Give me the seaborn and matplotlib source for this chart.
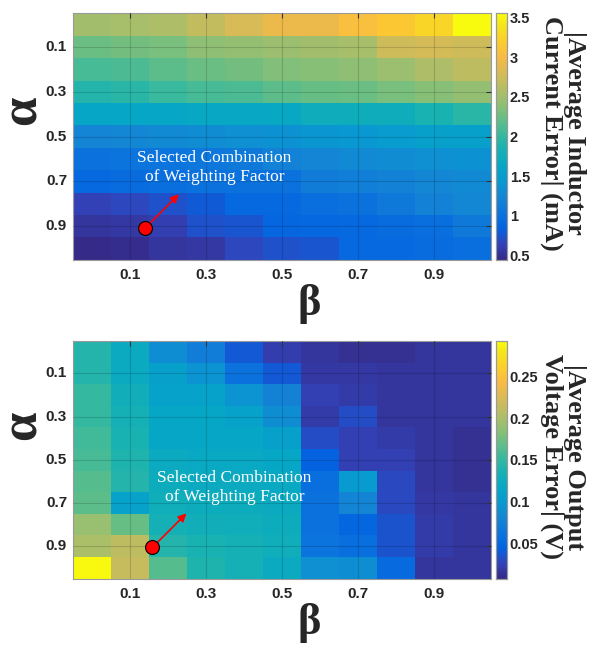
import matplotlib
matplotlib.use("Agg")
import matplotlib.pyplot as plt
import matplotlib.transforms as mtransforms
from matplotlib.colors import LinearSegmentedColormap
import pandas as pd
import seaborn as sns


# --- Data --------------------------------------------------------------------
# Weighting factor sweep: alpha (rows) x beta (columns)
alpha_values = [0.0, 0.1, 0.2, 0.3, 0.4, 0.5, 0.6, 0.7, 0.8, 0.9, 1.0]
beta_values = [0.0, 0.1, 0.2, 0.3, 0.4, 0.5, 0.6, 0.7, 0.8, 0.9, 1.0]
tick_values = [0.1, 0.3, 0.5, 0.7, 0.9]

# |Average inductor current error| (mA)
current_error = [
    [2.50, 2.53, 2.56, 2.68, 2.81, 2.93, 2.93, 3.05, 3.15, 3.27, 3.55],
    [2.25, 2.28, 2.31, 2.40, 2.43, 2.47, 2.50, 2.53, 2.74, 2.78, 2.74],
    [2.09, 2.12, 2.19, 2.25, 2.28, 2.34, 2.37, 2.40, 2.47, 2.56, 2.65],
    [1.91, 1.94, 2.03, 2.09, 2.12, 2.19, 2.22, 2.25, 2.31, 2.37, 2.43],
    [1.63, 1.63, 1.63, 1.66, 1.66, 1.66, 1.75, 1.75, 1.75, 1.85, 1.94],
    [1.23, 1.26, 1.29, 1.32, 1.35, 1.38, 1.41, 1.44, 1.50, 1.54, 1.54],
    [1.01, 1.04, 1.04, 1.07, 1.10, 1.19, 1.23, 1.29, 1.32, 1.35, 1.38],
    [0.92, 0.95, 0.98, 1.01, 1.01, 1.01, 1.13, 1.16, 1.19, 1.26, 1.29],
    [0.64, 0.67, 0.73, 0.79, 0.92, 0.92, 0.98, 1.01, 1.10, 1.19, 1.26],
    [0.54, 0.57, 0.61, 0.73, 0.76, 0.88, 0.90, 0.92, 0.95, 0.98, 1.10],
    [0.45, 0.48, 0.54, 0.57, 0.67, 0.73, 0.76, 0.92, 0.92, 0.95, 0.98],
]

# |Average output voltage error| (V)
voltage_error = [
    [0.142, 0.122, 0.088, 0.072, 0.038, 0.022, 0.016, 0.013, 0.013, 0.016, 0.016],
    [0.142, 0.122, 0.108, 0.094, 0.060, 0.038, 0.018, 0.018, 0.016, 0.016, 0.016],
    [0.150, 0.130, 0.111, 0.111, 0.094, 0.077, 0.024, 0.021, 0.016, 0.016, 0.016],
    [0.150, 0.133, 0.116, 0.116, 0.111, 0.088, 0.021, 0.032, 0.016, 0.016, 0.016],
    [0.156, 0.136, 0.116, 0.116, 0.116, 0.108, 0.032, 0.024, 0.021, 0.016, 0.013],
    [0.158, 0.139, 0.122, 0.119, 0.119, 0.116, 0.044, 0.024, 0.024, 0.016, 0.013],
    [0.164, 0.142, 0.125, 0.122, 0.122, 0.119, 0.055, 0.102, 0.030, 0.016, 0.013],
    [0.167, 0.111, 0.128, 0.125, 0.125, 0.122, 0.060, 0.080, 0.030, 0.018, 0.016],
    [0.192, 0.170, 0.133, 0.130, 0.128, 0.125, 0.060, 0.049, 0.035, 0.021, 0.016],
    [0.200, 0.209, 0.142, 0.136, 0.133, 0.128, 0.062, 0.055, 0.035, 0.021, 0.016],
    [0.290, 0.214, 0.164, 0.139, 0.133, 0.122, 0.091, 0.088, 0.052, 0.016, 0.016],
]

current_ticks = [0.5, 1, 1.5, 2, 2.5, 3, 3.5]
voltage_ticks = [0.05, 0.1, 0.15, 0.2, 0.25]

# Selected weighting factor combination (beta, alpha) marked on each map
selected_beta = [0.14, 0.16]
selected_alpha = [0.91, 0.905]

panel_labels = [
    "|Average Inductor\nCurrent Error| (mA)",
    "|Average Output\nVoltage Error| (V)",
]
note_text = "Selected Combination\nof Weighting Factor"


# --- Colormap (MATLAB parula approximation) ----------------------------------
parula_anchors = [
    (0.2081, 0.1663, 0.5292), (0.1959, 0.2645, 0.7279),
    (0.0117, 0.3875, 0.8820), (0.0498, 0.4586, 0.8641),
    (0.0793, 0.5200, 0.8312), (0.0343, 0.5966, 0.8199),
    (0.0228, 0.6535, 0.7768), (0.0843, 0.6928, 0.7062),
    (0.2178, 0.7250, 0.6193), (0.3953, 0.7459, 0.5244),
    (0.5709, 0.7485, 0.4494), (0.7184, 0.7411, 0.3905),
    (0.8507, 0.7299, 0.3360), (0.9739, 0.7314, 0.2666),
    (0.9880, 0.8066, 0.1794), (0.9589, 0.8949, 0.1132),
    (0.9763, 0.9831, 0.0538),
]
positions = [min(4 * i, 63) / 63 for i in range(len(parula_anchors))]
parula = LinearSegmentedColormap.from_list("parula", list(zip(positions, parula_anchors)))


# --- Figure ------------------------------------------------------------------
sns.set_style("white")
tick_font = ["Liberation Sans Narrow", "Liberation Sans", "DejaVu Sans"]
serif_font = ["Liberation Serif", "DejaVu Serif"]

fig = plt.figure(figsize=(6, 6.6), dpi=100)

panels = [
    dict(data=current_error, vmin=0.45, vmax=3.55, ticks=current_ticks,
         ax=[0.121, 0.6065, 0.697, 0.3733], cax=[0.8267, 0.6065, 0.0183, 0.3733],
         note=(50, 44), alpha_y=0.833),
    dict(data=voltage_error, vmin=0.008, vmax=0.292, ticks=voltage_ticks,
         ax=[0.121, 0.1232, 0.697, 0.360], cax=[0.8267, 0.1232, 0.0183, 0.360],
         note=(59, 43), alpha_y=0.356),
]

grey_text = "#262626"
for i, p in enumerate(panels):
    ax = fig.add_axes(p["ax"])
    cax = fig.add_axes(p["cax"])
    df = pd.DataFrame(p["data"], index=alpha_values, columns=beta_values)

    sns.heatmap(df, ax=ax, cbar_ax=cax, cmap=parula, vmin=p["vmin"], vmax=p["vmax"],
                cbar_kws={"ticks": p["ticks"]})

    # Axis ticks at the odd tenths, MATLAB-style inward ticks on every side
    tick_pos = [beta_values.index(v) + 0.5 for v in tick_values]
    ax.set_xticks(tick_pos)
    ax.set_xticklabels([f"{v:g}" for v in tick_values], rotation=0)
    ax.set_yticks([alpha_values.index(v) + 0.5 for v in tick_values])
    ax.set_yticklabels([f"{v:g}" for v in tick_values], rotation=0)
    ax.tick_params(direction="in", length=3.5, width=0.8, color="#333333",
                   top=True, right=True, labelsize=11, labelcolor=grey_text)
    ax.tick_params(axis="x", pad=6)
    ax.tick_params(axis="y", pad=4)
    for lab in ax.get_xticklabels() + ax.get_yticklabels():
        lab.set_fontfamily(tick_font)
        lab.set_fontweight("bold")
    ax.set_xlabel("")
    ax.set_ylabel("")

    # Faint grid on top of the cells
    ax.set_axisbelow(False)
    ax.grid(True, color="black", alpha=0.15, linewidth=0.8)
    for spine in ax.spines.values():
        spine.set_visible(True)
        spine.set_color("#9a9a9a")
        spine.set_linewidth(0.8)

    # Colorbar styling
    cax.tick_params(direction="in", length=3, width=0.6, color="#555555",
                    labelsize=10.5, labelcolor=grey_text, pad=2)
    cax.set_yticklabels([f"{v:g}" for v in p["ticks"]])
    for lab in cax.get_yticklabels():
        lab.set_fontfamily(tick_font)
        lab.set_fontweight("bold")
    for spine in cax.spines.values():
        spine.set_visible(True)
        spine.set_color("#9a9a9a")
        spine.set_linewidth(0.8)

    # Greek axis labels
    fig.text(0.5 + 0.015, p["ax"][1] - 0.067, "β", fontsize=32, fontweight="bold",
             family=serif_font, ha="center", va="center")
    fig.text(0.038, p["alpha_y"], "α", fontsize=38, fontweight="bold",
             family=serif_font, ha="center", va="center", rotation=90)

    # Colorbar title
    fig.text(0.938, p["ax"][1] + p["ax"][3] / 2 + 0.005, panel_labels[i], fontsize=19,
             fontweight="bold", family=serif_font, ha="center", va="center",
             rotation=-90, linespacing=0.95)

    # Selected combination marker, arrow and note
    sx = beta_values.index(0.0) + selected_beta[i] * 10 + 0.5
    sy = alpha_values.index(0.0) + selected_alpha[i] * 10 + 0.5
    ax.plot(sx, sy, marker="o", markersize=10, markerfacecolor="red",
            markeredgecolor="black", markeredgewidth=0.8, zorder=6)
    tip = mtransforms.offset_copy(ax.transData, fig=fig, x=24.5, y=24.5, units="points")
    ax.annotate("", xy=(sx, sy), xycoords=tip, xytext=(-20.5, -20.5),
                textcoords="offset points",
                arrowprops=dict(arrowstyle="-|>", color="red", lw=1.2,
                                mutation_scale=12, shrinkA=0, shrinkB=0),
                zorder=5)
    ax.annotate(note_text, xy=(sx, sy), xytext=p["note"], textcoords="offset points",
                ha="center", va="center", color="white", fontsize=12.5,
                family=serif_font, linespacing=1.25, zorder=7)

fig.savefig("out.png", dpi=100)
plt.close(fig)
